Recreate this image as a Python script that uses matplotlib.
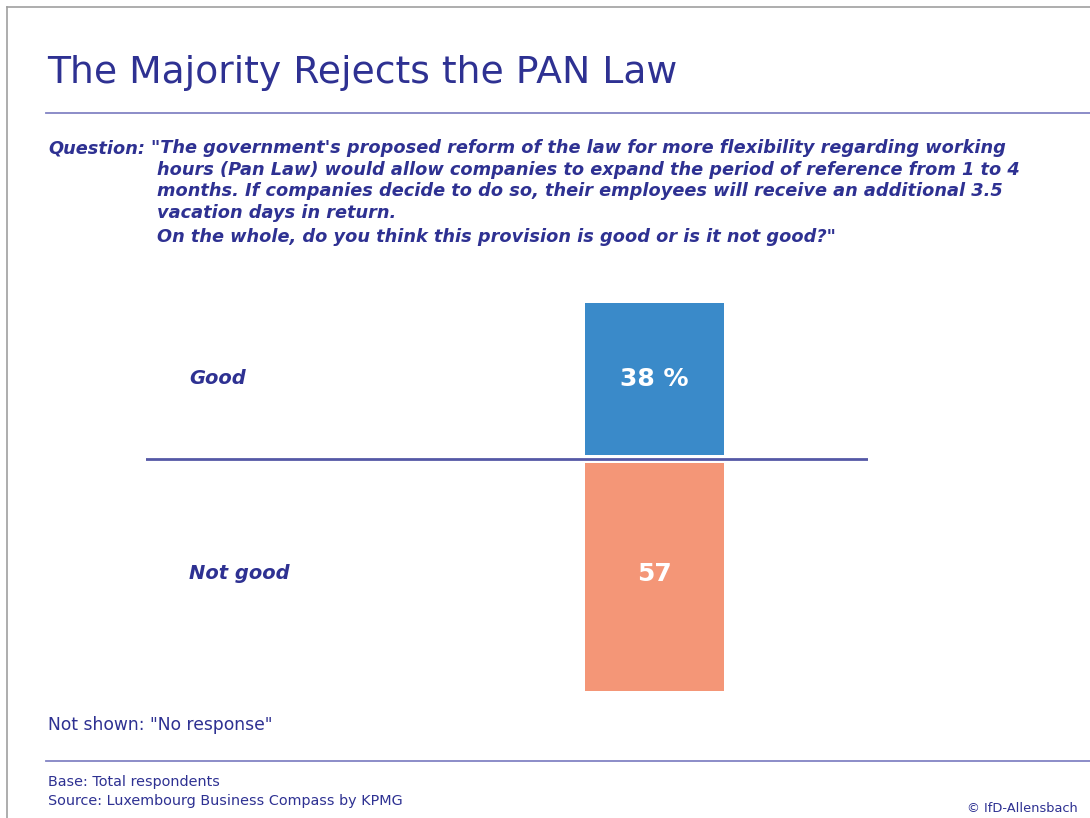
import matplotlib
matplotlib.use("Agg")
import matplotlib.pyplot as plt
from matplotlib.lines import Line2D

# data
categories = ["Good", "Not good"]
values = [38, 57]
value_labels = ["38 %", "57"]
bar_colors = ["#3a8ac9", "#f49677"]

title = "The Majority Rejects the PAN Law"
question_lines = [
    "\"The government's proposed reform of the law for more flexibility regarding working",
    "hours (Pan Law) would allow companies to expand the period of reference from 1 to 4",
    "months. If companies decide to do so, their employees will receive an additional 3.5",
    "vacation days in return.",
    "On the whole, do you think this provision is good or is it not good?\"",
]

W, H = 1090, 818
navy = "#2e3192"
rule = "#8284c4"

fig = plt.figure(figsize=(W / 100, H / 100), dpi=100)
plt.rcParams['font.family'] = ['DejaVu Sans']


def fx(px):
    return px / W


def fy(py):
    return 1 - py / H


# frame lines (top and left)
fig.add_artist(Line2D([fx(7), 1], [fy(7), fy(7)], color="#a0a0a0", lw=1.2))
fig.add_artist(Line2D([fx(7), fx(7)], [fy(7), 0], color="#a0a0a0", lw=1.2))

# title + rules
fig.text(fx(47), fy(73), title, fontsize=27.2, color=navy, va="center", ha="left")
fig.add_artist(Line2D([fx(46), 1], [fy(113), fy(113)], color=rule, lw=1.3))
fig.add_artist(Line2D([fx(46), 1], [fy(761), fy(761)], color=rule, lw=1.3))

# question text
q_size = 12.8
line_y = [148, 170, 191, 213, 237]
fig.text(fx(48), fy(line_y[0]), "Question:", fontsize=q_size, color=navy, style="italic",
         weight="bold", va="center", ha="left")
for i, line in enumerate(question_lines):
    x0 = 151 if i == 0 else 157
    fig.text(fx(x0), fy(line_y[i]), line, fontsize=q_size, color=navy,
             style="italic", weight="bold", va="center", ha="left")

# chart area: 4 px per percentage point
top_px, bot_px, left_px, right_px = 290, 700, 146, 868
px_per_unit = 4
zero_px = 459
gap = 1
ax = fig.add_axes([fx(left_px), fy(bot_px), fx(right_px - left_px), (bot_px - top_px) / H])
ax.set_xlim(0, right_px - left_px)
ax.set_ylim((zero_px - bot_px) / px_per_unit, (zero_px - top_px) / px_per_unit)
ax.axis("off")

bar_x = 654.5 - left_px
bar_w = 139
ax.bar(bar_x, values[0], bottom=gap, width=bar_w, color=bar_colors[0])
ax.bar(bar_x, -values[1], bottom=-gap, width=bar_w, color=bar_colors[1])
ax.axhline(0, color="#5558a6", lw=2)

centers = [gap + values[0] / 2, -gap - values[1] / 2 + 0.8]
for cat, lab, yc in zip(categories, value_labels, centers):
    ax.text(bar_x, yc, lab, color="white", fontsize=18, weight="bold",
            ha="center", va="center")
    ax.text(189 - left_px, yc, cat, color=navy, fontsize=14, weight="bold",
            style="italic", ha="left", va="center")

# notes
fig.text(fx(48), fy(725), "Not shown: \"No response\"", fontsize=12.3, color=navy,
         va="center", ha="left")
fig.text(fx(48), fy(782), "Base: Total respondents", fontsize=10.4, color=navy,
         va="center", ha="left")
fig.text(fx(48), fy(801), "Source: Luxembourg Business Compass by KPMG", fontsize=10.4,
         color=navy, va="center", ha="left")
fig.text(fx(1078), fy(808), "\u00a9 IfD-Allensbach", fontsize=9.4, color=navy,
         va="center", ha="right")

fig.savefig("out.png", dpi=100)
